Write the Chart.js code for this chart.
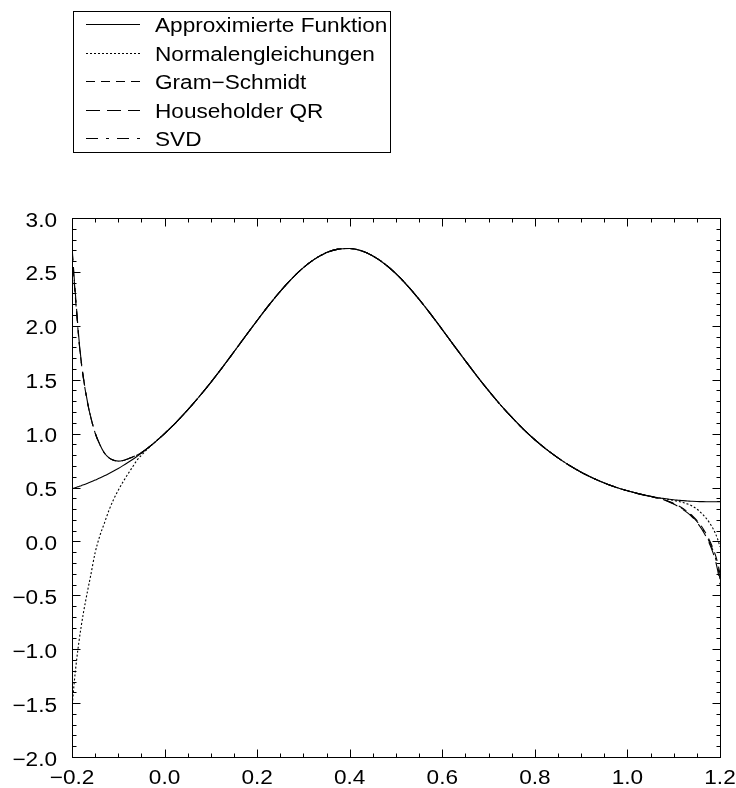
<!DOCTYPE html>
<html>
<head>
<meta charset="utf-8">
<script src="https://cdn.jsdelivr.net/npm/chart.js@4/dist/chart.umd.min.js"></script>
<style>
  html, body { margin: 0; padding: 0; background: #fff; }
  #plot { display: block; }
</style>
</head>
<body>
<canvas id="plot" width="736" height="788"></canvas>
<script>
// Stützstellen: dichter an den Rändern, wo die Ausgleichspolynome abweichen
const xLeft = [-0.2, -0.195, -0.19, -0.185, -0.18, -0.175, -0.17, -0.165, -0.16, -0.15,
  -0.14, -0.13, -0.12, -0.11, -0.10, -0.09, -0.08, -0.07, -0.06, -0.05];
const xMid = [-0.025, 0, 0.025, 0.05, 0.075, 0.1, 0.125, 0.15, 0.175, 0.2, 0.225, 0.25,
  0.275, 0.3, 0.325, 0.35, 0.375, 0.4, 0.425, 0.45, 0.475, 0.5, 0.525, 0.55, 0.575, 0.6,
  0.625, 0.65, 0.675, 0.7, 0.725, 0.75, 0.775, 0.8, 0.825, 0.85, 0.875, 0.9, 0.925, 0.95,
  0.975, 1.0, 1.025, 1.05];
const xRight = [1.06, 1.07, 1.08, 1.09, 1.10, 1.11, 1.12, 1.13, 1.14, 1.15, 1.16, 1.17,
  1.18, 1.19, 1.195, 1.2];

// Approximierte Funktion
const funcLeft = [0.488, 0.495, 0.502, 0.510, 0.517, 0.525, 0.533, 0.542, 0.550, 0.569,
  0.588, 0.608, 0.630, 0.653, 0.677, 0.703, 0.730, 0.758, 0.788, 0.820];
const funcMid = [0.905, 1.000, 1.105, 1.220, 1.344, 1.476, 1.615, 1.759, 1.905, 2.049,
  2.189, 2.320, 2.438, 2.540, 2.621, 2.679, 2.711, 2.717, 2.696, 2.648, 2.576, 2.483,
  2.371, 2.245, 2.108, 1.965, 1.819, 1.675, 1.533, 1.398, 1.270, 1.152, 1.042, 0.943,
  0.854, 0.775, 0.704, 0.642, 0.589, 0.542, 0.503, 0.469, 0.441, 0.418];
const funcRight = [0.410, 0.403, 0.397, 0.391, 0.386, 0.382, 0.378, 0.375, 0.372, 0.370,
  0.369, 0.368, 0.368, 0.368, 0.369, 0.369];

// Normalengleichungen
const normalLeft = [-1.55, -1.30, -1.10, -0.93, -0.785, -0.655, -0.54, -0.43, -0.325, -0.105,
  0.05, 0.17, 0.29, 0.39, 0.475, 0.55, 0.62, 0.685, 0.75, 0.80];
const normalRight = [0.410, 0.403, 0.396, 0.388, 0.380, 0.371, 0.360, 0.347, 0.328, 0.300,
  0.262, 0.215, 0.155, 0.075, 0.020, -0.05];

// Gram-Schmidt
const gramLeft = [2.68, 2.39, 2.12, 1.86, 1.66, 1.50, 1.37, 1.255, 1.16, 1.005,
  0.90, 0.82, 0.775, 0.752, 0.745, 0.750, 0.765, 0.781, 0.800, 0.823];
const gramRight = [0.408, 0.398, 0.386, 0.371, 0.352, 0.330, 0.305, 0.275, 0.240, 0.195,
  0.140, 0.070, -0.015, -0.125, -0.20, -0.30];

// Householder QR
const houseLeft = [2.74, 2.43, 2.15, 1.88, 1.67, 1.51, 1.375, 1.26, 1.163, 1.007,
  0.90, 0.82, 0.775, 0.752, 0.745, 0.750, 0.765, 0.781, 0.800, 0.823];
const houseRight = [0.406, 0.395, 0.382, 0.366, 0.346, 0.323, 0.296, 0.264, 0.226, 0.178,
  0.118, 0.043, -0.050, -0.175, -0.27, -0.40];

// SVD
const svdLeft = [2.71, 2.41, 2.135, 1.87, 1.665, 1.505, 1.372, 1.258, 1.161, 1.006,
  0.90, 0.82, 0.775, 0.752, 0.745, 0.750, 0.765, 0.781, 0.800, 0.823];
const svdRight = [0.407, 0.396, 0.384, 0.368, 0.349, 0.326, 0.300, 0.270, 0.233, 0.186,
  0.129, 0.056, -0.032, -0.150, -0.235, -0.35];

const seriesNames = ["Approximierte Funktion", "Normalengleichungen", "Gram\u2212Schmidt",
  "Householder QR", "SVD"];
const seriesDash = [[], [2, 2], [9, 6], [14, 7], [12, 8, 3, 8]];

const xTicks = { min: -0.2, max: 1.2, step: 0.2, minor: 0.05 };
const yTicks = { min: -2, max: 3, step: 0.5, minor: 0.1 };

const FONT = '20px "Liberation Sans", Arial, Helvetica, sans-serif';
const STRETCH = 1.13;
const MAJOR_LEN = 8;
const MINOR_LEN = 4;

const xAll = [...xLeft, ...xMid, ...xRight];

function toPoints(ys) {
  return ys.map((y, i) => ({ x: xAll[i], y }));
}

function fmt(v) {
  if (Math.abs(v) < 1e-9) v = 0;
  return v.toFixed(1).replace("-", "\u2212");
}

function stretchedText(ctx, text, x, y, align) {
  ctx.save();
  ctx.translate(x, y);
  ctx.scale(STRETCH, 1);
  ctx.textAlign = align;
  ctx.textBaseline = "alphabetic";
  ctx.fillText(text, 0, 0);
  ctx.restore();
}

// Rahmen, nach innen zeigende Ticks auf allen vier Seiten und Achsenbeschriftung
const frameTicks = {
  id: "frameTicks",
  afterDatasetsDraw(chart) {
    const { ctx, chartArea: a, scales } = chart;
    const sx = scales.x, sy = scales.y;
    const L = Math.round(a.left) + 0.5, R = Math.round(a.right) + 0.5;
    const T = Math.round(a.top) + 0.5, B = Math.round(a.bottom) + 0.5;

    ctx.save();
    ctx.strokeStyle = "#000";
    ctx.lineWidth = 1;
    ctx.beginPath();
    const nx = Math.round((xTicks.max - xTicks.min) / xTicks.minor);
    const perX = Math.round(xTicks.step / xTicks.minor);
    for (let i = 0; i <= nx; i++) {
      const px = Math.round(sx.getPixelForValue(xTicks.min + i * xTicks.minor)) + 0.5;
      const len = i % perX === 0 ? MAJOR_LEN : MINOR_LEN;
      ctx.moveTo(px, B); ctx.lineTo(px, B - len);
      ctx.moveTo(px, T); ctx.lineTo(px, T + len);
    }
    const ny = Math.round((yTicks.max - yTicks.min) / yTicks.minor);
    const perY = Math.round(yTicks.step / yTicks.minor);
    for (let i = 0; i <= ny; i++) {
      const py = Math.round(sy.getPixelForValue(yTicks.min + i * yTicks.minor)) + 0.5;
      const len = i % perY === 0 ? MAJOR_LEN : MINOR_LEN;
      ctx.moveTo(L, py); ctx.lineTo(L + len, py);
      ctx.moveTo(R, py); ctx.lineTo(R - len, py);
    }
    ctx.stroke();
    ctx.strokeRect(L, T, R - L, B - T);

    ctx.fillStyle = "#000";
    ctx.font = FONT;
    sx.ticks.forEach((t) => {
      stretchedText(ctx, fmt(t.value), sx.getPixelForValue(t.value), a.bottom + 27, "center");
    });
    sy.ticks.forEach((t) => {
      stretchedText(ctx, fmt(t.value), a.left - 15, sy.getPixelForValue(t.value) + 8.5, "right");
    });
    ctx.restore();
  },
};

// Legende oben links im Kasten
const legendBox = {
  id: "legendBox",
  afterDraw(chart) {
    const { ctx } = chart;
    ctx.save();
    ctx.strokeStyle = "#000";
    ctx.lineWidth = 1;
    ctx.strokeRect(73.5, 11.5, 317, 141);
    ctx.font = FONT;
    ctx.fillStyle = "#000";
    chart.data.datasets.forEach((ds, i) => {
      const cy = Math.round(24 + i * 28.5) + 0.5;
      ctx.setLineDash(ds.borderDash || []);
      ctx.beginPath();
      ctx.moveTo(86, cy);
      ctx.lineTo(140, cy);
      ctx.stroke();
      ctx.setLineDash([]);
      stretchedText(ctx, ds.label, 155, cy + 7, "left");
    });
    ctx.restore();
  },
};

const seriesValues = [
  [...funcLeft, ...funcMid, ...funcRight],
  [...normalLeft, ...funcMid, ...normalRight],
  [...gramLeft, ...funcMid, ...gramRight],
  [...houseLeft, ...funcMid, ...houseRight],
  [...svdLeft, ...funcMid, ...svdRight],
];

new Chart(document.getElementById("plot"), {
  type: "line",
  data: {
    datasets: seriesValues.map((ys, i) => ({
      label: seriesNames[i],
      data: toPoints(ys),
      borderColor: "#000",
      borderWidth: 1.1,
      borderDash: seriesDash[i],
      pointRadius: 0,
      fill: false,
      cubicInterpolationMode: "monotone",
    })),
  },
  options: {
    responsive: false,
    animation: false,
    layout: { padding: { top: 218, right: 16, left: 0, bottom: 0 } },
    plugins: { legend: { display: false }, tooltip: { enabled: false } },
    scales: {
      x: {
        type: "linear",
        min: xTicks.min,
        max: xTicks.max,
        ticks: { stepSize: xTicks.step, display: false },
        grid: { display: false },
        border: { display: false },
        afterFit: (s) => { s.height = 31; },
      },
      y: {
        type: "linear",
        min: yTicks.min,
        max: yTicks.max,
        ticks: { stepSize: yTicks.step, display: false },
        grid: { display: false },
        border: { display: false },
        afterFit: (s) => { s.width = 72; },
      },
    },
  },
  plugins: [frameTicks, legendBox],
});
</script>
</body>
</html>
